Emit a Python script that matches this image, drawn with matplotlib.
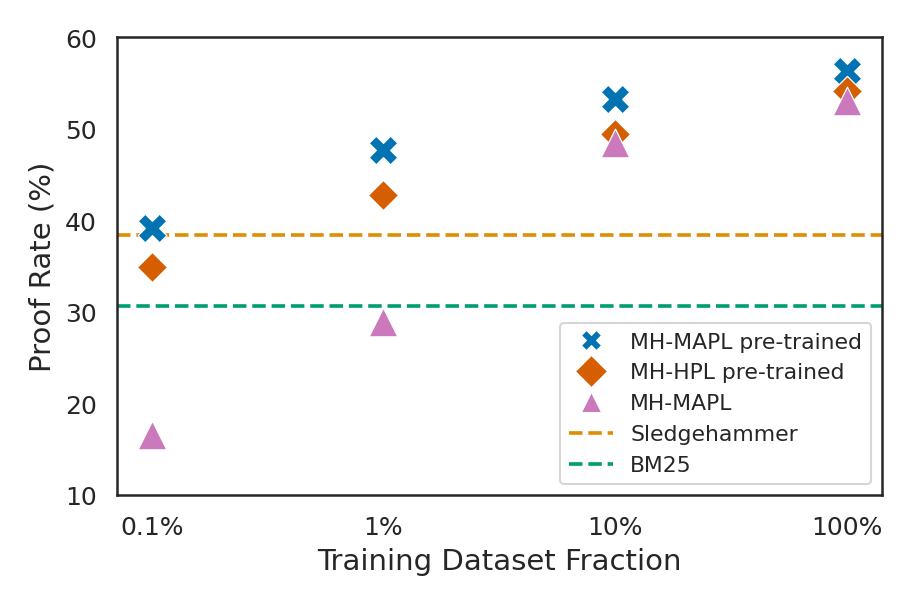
import matplotlib
matplotlib.use("Agg")
import matplotlib.pyplot as plt
from matplotlib.lines import Line2D
import seaborn as sns

# data
fractions = [0.1, 1, 10, 100]
tick_labels = ["0.1%", "1%", "10%", "100%"]
mapl_pretrained = [39.2, 47.7, 53.2, 56.3]
hpl_pretrained = [34.9, 42.7, 49.4, 54.1]
mapl_scratch = [16.6, 28.9, 48.4, 53.0]
sledgehammer = 38.4
bm25 = 30.6

sns.set_theme(style="white", palette="colorblind")
pal = sns.color_palette("colorblind")

fig = plt.figure(figsize=(913 / 150, 609 / 150), dpi=150)
ax = fig.add_axes([0.128, 0.1856, 0.838, 0.752])

# (values, marker, scatter size, legend marker size, colour, label)
series = [
    (mapl_pretrained, "X", 190, 10.0, pal[0], "MH-MAPL pre-trained"),
    (hpl_pretrained, "D", 105, 10.8, pal[3], "MH-HPL pre-trained"),
    (mapl_scratch, "^", 190, 10.0, pal[4], "MH-MAPL"),
]
handles = []
for vals, mk, size, lsize, col, name in series:
    ax.scatter(fractions, vals, marker=mk, s=size, color=col,
               edgecolor="white", linewidth=0.6, zorder=3)
    handles.append(Line2D([], [], linestyle="none", marker=mk, markersize=lsize,
                          color=col, markeredgecolor="white",
                          markeredgewidth=0.5, label=name))

for yv, col, name in [(sledgehammer, pal[1], "Sledgehammer"), (bm25, pal[2], "BM25")]:
    ax.axhline(yv, color=col, linestyle="--", linewidth=1.75)
    handles.append(Line2D([], [], color=col, linestyle="--", linewidth=1.75, label=name))

ax.set_xscale("log")
ax.set_xticks(fractions)
ax.set_xticklabels(tick_labels)
ax.minorticks_off()
ax.set_ylim(10, 60)
ax.set_yticks([10, 20, 30, 40, 50, 60])
ax.tick_params(axis="both", labelsize=12, length=6, pad=3.5)

ax.set_xlabel("Training Dataset Fraction", fontsize=14)
ax.set_ylabel("Proof Rate (%)", fontsize=14)

for sp in ax.spines.values():
    sp.set_linewidth(1.2)

ax.legend(handles=handles, loc="lower right", fontsize=10.5)

fig.savefig("out.png", dpi=150)
